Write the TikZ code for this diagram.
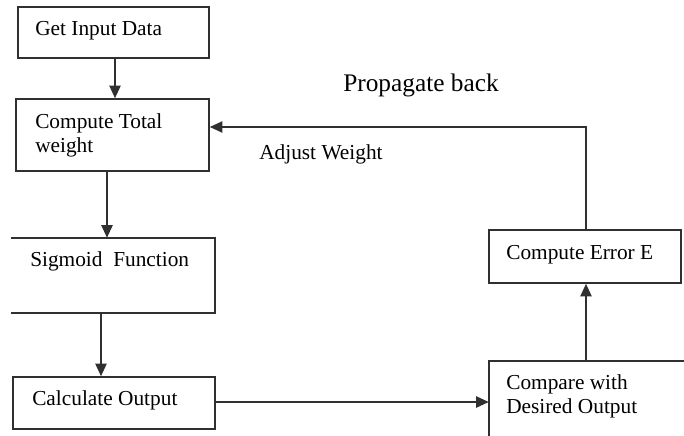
\documentclass[tikz,border=0pt]{standalone}
\usepackage{fontspec}
\setmainfont{Liberation Serif}
\usetikzlibrary{arrows.meta}
\begin{document}
\begin{tikzpicture}[x=0.75pt,y=-0.75pt,
  box/.style={draw=lc, line width=1.2pt, rectangle, inner sep=0pt},
  nobox/.style={rectangle, inner sep=0pt},
  lbl/.style={font=\fontsize{16}{18}\selectfont, inner sep=0pt, anchor=base west, align=left, text=black},
  arr/.style={draw=lc, line width=1.2pt, -{Triangle[length=9.5pt,width=8.5pt]}},
  ln/.style={draw=lc, line width=1.2pt}]
\definecolor{lc}{HTML}{303030}
\useasboundingbox (0,0) rectangle (684,435);
\clip (0,0) rectangle (684,435);
% boxes
\node[box, minimum width=191*0.75pt, minimum height=51*0.75pt] (b1) at (113.5,32.5) {};
\node[box, minimum width=193*0.75pt, minimum height=72*0.75pt] (b2) at (112.5,135) {};
\node[nobox, minimum width=204*0.75pt, minimum height=75*0.75pt] (b3) at (113,275.5) {};
\draw[ln] (b3.north west) -- (b3.north east) -- (b3.south east) -- (b3.south west);
\node[box, minimum width=202*0.75pt, minimum height=52*0.75pt] (b4) at (114,403) {};
\node[box, minimum width=192*0.75pt, minimum height=53*0.75pt] (b5) at (585,256.5) {};
\node[nobox, minimum width=220*0.75pt, minimum height=90*0.75pt] (b6) at (599,406) {};
\draw[ln] (b6.south west) -- (b6.north west) -- (b6.north east);
% labels
\node[lbl] (l1) at (35,36) {Get Input Data};
\node[lbl] (l2) at (35,152) {Compute Total\\weight};
\node[lbl] (l3) at (30,266) {Sigmoid\ \ Function};
\node[lbl] (l4) at (32,405) {Calculate Output};
\node[lbl] (l5) at (506,259) {Compute Error E};
\node[lbl] (l6) at (506,413) {Compare with\\Desired Output};
\node[lbl] (l7) at (259,159) {Adjust Weight};
\node[lbl, font=\fontsize{19}{22}\selectfont] (l8) at (343,91) {Propagate back};
% connectors
\draw[arr] (115,0 |- b1.south) -- (115,0 |- b2.north);
\draw[arr] (107,0 |- b2.south) -- (107,0 |- b3.north);
\draw[arr] (101,0 |- b3.south) -- (101,0 |- b4.north);
\draw[arr] (b4.east |- 0,402) -- (b6.west |- 0,402);
\draw[arr] (586,0 |- b6.north) -- (586,0 |- b5.south);
\coordinate (c) at (586,127);
\draw[arr] (586,0 |- b5.north) -- (c) -- (c -| b2.east);
\end{tikzpicture}
\end{document}
